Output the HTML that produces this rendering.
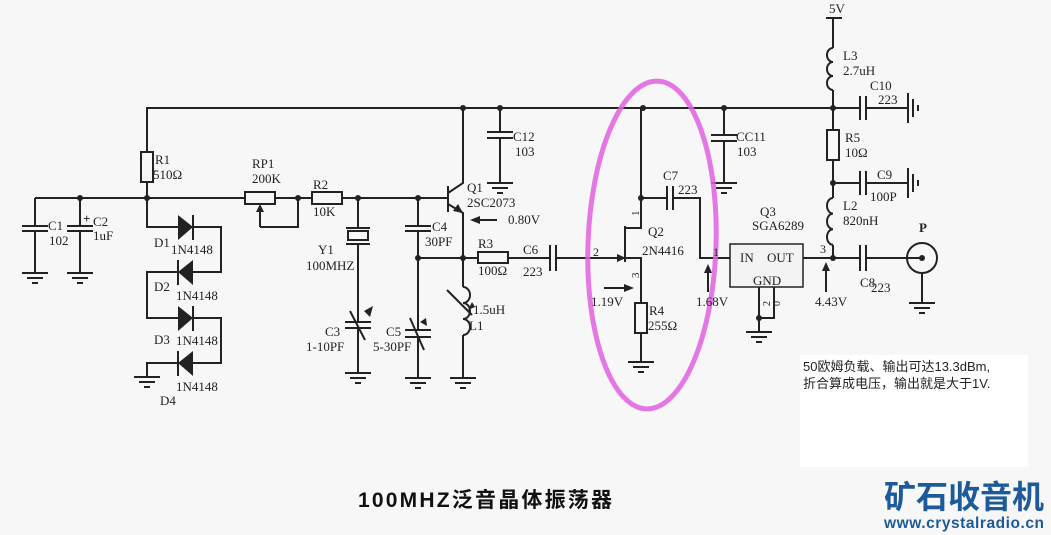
<!DOCTYPE html>
<html><head><meta charset="utf-8"><style>
body{margin:0;background:#f7f7f7;}
svg{display:block}
text{font-family:"Liberation Serif","Noto Serif CJK SC",serif;font-size:13px;fill:#222}
text.s{font-family:"Liberation Sans","Noto Sans CJK SC",sans-serif}
</style></head><body>
<svg width="1051" height="535" viewBox="0 0 1051 535" xmlns="http://www.w3.org/2000/svg">
<defs>
<g id="gnd" stroke="#222" stroke-width="2"><line x1="-13" y1="0" x2="13" y2="0"/><line x1="-8" y1="5" x2="8" y2="5"/><line x1="-3" y1="10" x2="3" y2="10"/></g>
<g id="gndr" stroke="#222" stroke-width="2"><line x1="0" y1="-15" x2="0" y2="15"/><line x1="5" y1="-9" x2="5" y2="9"/><line x1="10" y1="-3" x2="10" y2="3"/></g>
</defs>
<rect x="800" y="355" width="228" height="112" fill="#fff"/>
<g stroke="#222" stroke-width="2" fill="none">
<polyline points="147,152 147,108 835,108"/>
<line x1="35" y1="198" x2="447" y2="198"/>
<rect x="141" y="152" width="12" height="30"/>
<line x1="147" y1="182" x2="147" y2="198"/>
<line x1="35" y1="198" x2="35" y2="226"/><line x1="22" y1="226" x2="48" y2="226"/><line x1="22" y1="231" x2="48" y2="231"/><line x1="35" y1="231" x2="35" y2="273"/>
<line x1="80" y1="198" x2="80" y2="226"/><line x1="67" y1="226" x2="93" y2="226"/><line x1="67" y1="231" x2="93" y2="231"/><line x1="80" y1="231" x2="80" y2="273"/>
<polyline points="147,198 147,227 221,227 221,272 147,272 147,318 221,318 221,363 147,363 147,377"/>
<line x1="193" y1="215" x2="193" y2="240"/><line x1="178" y1="260" x2="178" y2="285"/><line x1="193" y1="306" x2="193" y2="331"/><line x1="178" y1="351" x2="178" y2="376"/>
<rect x="245" y="192" width="30" height="12" fill="#f7f7f7"/>
<polyline points="260,227 298,227 298,198"/><line x1="260" y1="227" x2="260" y2="210"/>
<rect x="312" y="192" width="30" height="12" fill="#f7f7f7"/>
<line x1="358" y1="198" x2="358" y2="228"/><line x1="346" y1="228" x2="370" y2="228"/><rect x="348" y="231" width="20" height="9"/><line x1="346" y1="244" x2="370" y2="244"/>
<line x1="358" y1="244" x2="358" y2="322"/><line x1="345" y1="322" x2="371" y2="322"/><line x1="345" y1="328" x2="371" y2="328"/><line x1="358" y1="328" x2="358" y2="373"/>
<line x1="350" y1="311" x2="365" y2="340"/>
<line x1="418" y1="198" x2="418" y2="226"/><line x1="405" y1="226" x2="431" y2="226"/><line x1="405" y1="231" x2="431" y2="231"/><polyline points="418,231 418,330"/><line x1="418" y1="258" x2="463" y2="258"/>
<line x1="405" y1="330" x2="431" y2="330"/><line x1="405" y1="337" x2="431" y2="337"/><line x1="418" y1="337" x2="418" y2="378"/><line x1="410" y1="318" x2="424" y2="350"/>
<line x1="448" y1="186" x2="448" y2="212"/><polyline points="448,193 463,183 463,108"/><polyline points="448,204 463,213 463,287"/>
<path d="M463,287 a7,8 0 0 1 0,16 a7,8 0 0 1 0,16 a7,8 0 0 1 0,16"/><line x1="463" y1="335" x2="463" y2="378"/>
<line x1="447" y1="290" x2="472" y2="315"/>
<line x1="500" y1="108" x2="500" y2="132"/><line x1="487" y1="132" x2="513" y2="132"/><line x1="487" y1="138" x2="513" y2="138"/><line x1="500" y1="138" x2="500" y2="183"/>
<line x1="463" y1="258" x2="478" y2="258"/><rect x="478" y="252" width="30" height="11" fill="#f7f7f7"/><line x1="508" y1="258" x2="550" y2="258"/>
<line x1="550" y1="245" x2="550" y2="271"/><line x1="556" y1="245" x2="556" y2="271"/><line x1="556" y1="258" x2="625" y2="258"/>
<line x1="625" y1="226" x2="625" y2="262"/><polyline points="625,228 641,228 641,108"/><polyline points="625,258 641,258 641,303"/>
<rect x="635" y="303" width="12" height="30" fill="#f7f7f7"/><line x1="641" y1="333" x2="641" y2="362"/>
<line x1="641" y1="198" x2="667" y2="198"/><line x1="667" y1="186" x2="667" y2="210"/><line x1="673" y1="186" x2="673" y2="210"/><polyline points="673,198 700,198 700,258 730,258"/>
<line x1="724" y1="108" x2="724" y2="135"/><line x1="711" y1="135" x2="737" y2="135"/><line x1="711" y1="141" x2="737" y2="141"/><line x1="724" y1="141" x2="724" y2="183"/>
<rect x="730" y="244" width="73" height="43" fill="#f3f3f3" stroke-width="1.5"/>
<polyline points="759,287 759,318 774,318 774,287"/><line x1="759" y1="318" x2="759" y2="332"/>
<line x1="803" y1="258" x2="860" y2="258"/><line x1="860" y1="245" x2="860" y2="271"/><line x1="866" y1="245" x2="866" y2="271"/><line x1="866" y1="258" x2="922" y2="258"/>
<circle cx="922" cy="258" r="15"/><line x1="922" y1="273" x2="922" y2="303"/>
<line x1="826" y1="18" x2="842" y2="18"/><line x1="833" y1="18" x2="833" y2="48"/>
<path d="M833,48 a6,7 0 0 0 0,14 a6,7 0 0 0 0,14 a6,7 0 0 0 0,14"/><line x1="833" y1="90" x2="833" y2="130"/>
<rect x="827" y="130" width="12" height="30" fill="#f7f7f7"/><line x1="833" y1="160" x2="833" y2="198"/>
<path d="M833,198 a6,7.8 0 0 0 0,15.6 a6,7.8 0 0 0 0,15.6 a6,7.8 0 0 0 0,15.6"/><line x1="833" y1="245" x2="833" y2="258"/>
<line x1="833" y1="108" x2="860" y2="108"/><line x1="860" y1="96" x2="860" y2="120"/><line x1="866" y1="96" x2="866" y2="120"/><line x1="866" y1="108" x2="908" y2="108"/>
<line x1="833" y1="183" x2="860" y2="183"/><line x1="860" y1="171" x2="860" y2="195"/><line x1="866" y1="171" x2="866" y2="195"/><line x1="866" y1="183" x2="908" y2="183"/>
<line x1="478" y1="220" x2="497" y2="220"/><line x1="604" y1="288" x2="625" y2="288"/>
<line x1="708" y1="270" x2="708" y2="292"/><line x1="826" y1="268" x2="826" y2="292"/>
</g>
<g fill="#222">
<polygon points="178,215 193,227 178,240"/><polygon points="193,260 178,272 193,285"/><polygon points="178,306 193,318 178,331"/><polygon points="193,351 178,363 193,376"/>
<polygon points="260,204 256,212 264,212"/><polygon points="463,213 453,211 458,204"/><polygon points="475,307 468,310 472,302"/><polygon points="373,306 364,311 370,317"/>
<polygon points="626,258 617,254 617,262"/><polygon points="470,220 480,216 480,224"/><polygon points="634,288 624,284 624,292"/>
<polygon points="708,264 704,273 712,273"/><polygon points="826,262 822,271 830,271"/>
<polygon points="426,318 420,322 427,326"/>
<circle cx="922" cy="258" r="3"/>
<circle cx="80" cy="198" r="3"/><circle cx="147" cy="198" r="3"/><circle cx="298" cy="198" r="3"/><circle cx="358" cy="198" r="3"/><circle cx="418" cy="198" r="3"/><circle cx="418" cy="258" r="3"/><circle cx="463" cy="258" r="3"/>
<circle cx="463" cy="108" r="3"/><circle cx="500" cy="108" r="3"/><circle cx="643" cy="108" r="3"/><circle cx="724" cy="108" r="3"/><circle cx="833" cy="108" r="3"/><circle cx="641" cy="198" r="3"/><circle cx="833" cy="183" r="3"/><circle cx="833" cy="258" r="3"/><circle cx="759" cy="318" r="3"/>
</g>
<use href="#gnd" x="35" y="273"/><use href="#gnd" x="80" y="273"/><use href="#gnd" x="147" y="377"/><use href="#gnd" x="358" y="373"/><use href="#gnd" x="418" y="378"/><use href="#gnd" x="463" y="378"/><use href="#gnd" x="500" y="183"/><use href="#gnd" x="641" y="362"/><use href="#gnd" x="724" y="183"/><use href="#gnd" x="759" y="332"/><use href="#gnd" x="922" y="303"/>
<use href="#gndr" x="908" y="108"/><use href="#gndr" x="908" y="183"/>
<ellipse cx="652" cy="245" rx="64" ry="164" fill="none" stroke="#e060e0" stroke-width="5" opacity="0.85" transform="rotate(2 652 245)"/>
<text x="155" y="164">R1</text><text x="153" y="179">510Ω</text>
<text x="252" y="168">RP1</text><text x="252" y="183">200K</text>
<text x="313" y="189">R2</text><text x="313" y="216">10K</text>
<text x="48" y="230">C1</text><text x="49" y="245">102</text>
<text x="83" y="223" style="font-weight:bold">+</text><text x="93" y="226">C2</text><text x="93" y="240">1uF</text>
<text x="154" y="247">D1</text><text x="171" y="254">1N4148</text>
<text x="154" y="291">D2</text><text x="176" y="300">1N4148</text>
<text x="154" y="344">D3</text><text x="176" y="345">1N4148</text>
<text x="176" y="391">1N4148</text><text x="160" y="405">D4</text>
<text x="318" y="254">Y1</text><text x="306" y="270">100MHZ</text>
<text x="325" y="336">C3</text><text x="306" y="351">1-10PF</text>
<text x="386" y="336">C5</text><text x="373" y="351">5-30PF</text>
<text x="432" y="231">C4</text><text x="425" y="246">30PF</text>
<text x="467" y="192">Q1</text><text x="467" y="207">2SC2073</text>
<text x="508" y="224">0.80V</text>
<text x="513" y="141">C12</text><text x="515" y="156">103</text>
<text x="478" y="248">R3</text><text x="478" y="275">100Ω</text>
<text x="523" y="254">C6</text><text x="523" y="276">223</text>
<text x="593" y="256" style="font-size:12px">2</text>
<text x="648" y="236">Q2</text><text x="642" y="255">2N4416</text>
<text x="631" y="216" style="font-size:11px" transform="rotate(-90 635 212)">1</text>
<text x="631" y="278" style="font-size:11px" transform="rotate(-90 635 274)">3</text>
<text x="591" y="306">1.19V</text>
<text x="649" y="315">R4</text><text x="648" y="330">255Ω</text>
<text x="663" y="180">C7</text><text x="678" y="194">223</text>
<text x="713" y="256" style="font-size:12px">1</text>
<text x="696" y="306">1.68V</text>
<text x="736" y="141">CC11</text><text x="737" y="156">103</text>
<text x="760" y="216">Q3</text><text x="752" y="230">SGA6289</text>
<text x="740" y="262">IN</text><text x="767" y="262">OUT</text><text x="753" y="285">GND</text>
<text x="820" y="253" style="font-size:12px">3</text>
<text x="815" y="306">4.43V</text>
<text x="860" y="287">C8</text><text x="871" y="292">223</text>
<text x="919" y="232" style="font-weight:bold">P</text>
<text x="829" y="13">5V</text>
<text x="843" y="60">L3</text><text x="843" y="75">2.7uH</text>
<text x="870" y="90">C10</text><text x="878" y="104">223</text>
<text x="845" y="142">R5</text><text x="845" y="157">10Ω</text>
<text x="877" y="179">C9</text><text x="870" y="201">100P</text>
<text x="843" y="210">L2</text><text x="843" y="225">820nH</text>
<text x="473" y="314">1.5uH</text><text x="469" y="330">L1</text>
<text x="768" y="312" style="font-size:10px" transform="rotate(-90 766 308)">2</text>
<text x="778" y="312" style="font-size:10px" transform="rotate(-90 776 308)">0</text>
<text class="s" x="803" y="371" style="font-size:13px">50欧姆负载、输出可达13.3dBm,</text>
<text class="s" x="803" y="388" style="font-size:13px">折合算成电压，输出就是大于1V.</text>
<text class="s" x="358" y="507" style="font-size:21px;font-weight:bold;fill:#111" textLength="254">100MHZ泛音晶体振荡器</text>
<text class="s" x="884" y="508" style="font-size:32px;font-weight:bold;fill:#1d5a9a" textLength="160">矿石收音机</text>
<text class="s" x="884" y="528" style="font-size:15.5px;font-weight:bold;fill:#1d5a9a" textLength="160">www.crystalradio.cn</text>
</svg>
</body></html>
